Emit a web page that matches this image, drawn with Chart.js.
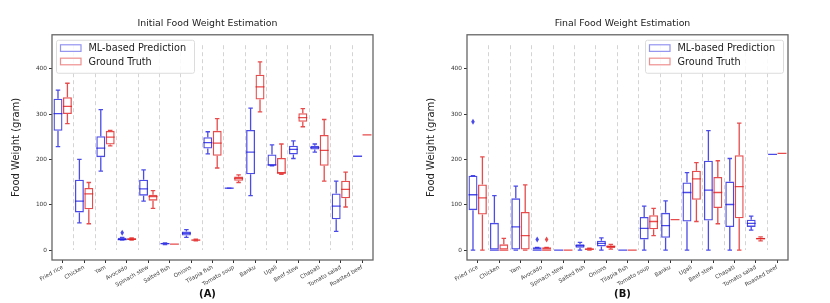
<!DOCTYPE html>
<html>
<head>
<meta charset="utf-8">
<script src="https://cdn.jsdelivr.net/npm/chart.js@4"></script>
<style>
  body { margin: 0; background: #fff; }
  .panel { position: absolute; top: 0; width: 415px; height: 303px; }
</style>
</head>
<body>
<div class="panel" style="left:0"><canvas id="chartA" width="415" height="303"></canvas></div>
<div class="panel" style="left:415px"><canvas id="chartB" width="415" height="303"></canvas></div>
<script>
const categories = ["Fried rice", "Chicken", "Yam", "Avocado", "Spinach stew", "Salted fish", "Onions",
  "Tilapia fish", "Tomato soup", "Banku", "Ugali", "Beef stew", "Chapati", "Tomato salad", "Roasted beef"];

const yTicks = [0, 100, 200, 300, 400];

// each entry: [min, q1, median, q3, max]
const initialPrediction = [
  [228, 263, 301, 334, 353], [60, 83, 108, 155, 200], [174, 205, 225, 251, 310], [22, 22, 23, 27, 28],
  [108, 120, 135, 155, 177], [12, 13, 14, 15, 16], [28, 32, 37, 41, 45], [212, 224, 237, 249, 261],
  [136, 136, 136.5, 137, 137], [120, 167, 216, 265, 313], [186, 186, 188, 211, 232], [202, 211, 222, 230, 241],
  [216, 222, 226, 230, 234], [41, 68, 97, 125, 152], [207, 207, 207, 207, 207]
];
const initialTruth = [
  [279, 300, 317, 337, 368], [58, 90, 124, 137, 149], [230, 233, 249, 263, 264], [22, 22, 24, 26, 27],
  [92, 109, 118, 122, 131], [13, 13, 13, 13, 13], [20, 21, 22, 23, 24], [181, 208, 236, 263, 290],
  [149, 153, 158, 162, 166], [305, 332, 360, 387, 415], [167, 169, 170, 203, 234], [272, 283, 292, 302, 312],
  [152, 186, 220, 254, 288], [95, 114, 134, 153, 172], [254, 254, 254, 254, 254]
];
const finalPrediction = [
  [0, 88, 122, 164, 164], [0, 0, 0, 60, 120], [0, 0, 51, 114, 141], [0, 0, 0, 6, 6],
  [0, 0, 0, 0, 0], [0, 5, 9.5, 13, 17], [0, 8, 14.7, 20.5, 27], [0, 0, 0, 0, 0],
  [0, 23.5, 48, 73, 97], [0, 27, 54, 82, 108.6], [0, 63, 127, 149, 171], [0, 65, 132, 197, 263.5],
  [0, 50.6, 100.5, 151, 202], [44, 51, 59, 67, 75], [211, 211, 211, 211, 211]
];
const finalTruth = [
  [0, 78.5, 115, 144.6, 205.5], [0, 0, 0, 12.5, 25.7], [0, 0, 32, 84, 144], [0, 0, 0, 6, 6],
  [0, 0, 0, 0, 0], [0, 0, 1.5, 3.7, 4], [2, 4.4, 8, 10, 12.5], [0, 0, 0, 0, 0],
  [31.6, 46, 63, 77, 92], [67, 67, 67, 67, 67], [63, 111, 157, 175, 193], [58, 92.5, 127, 161, 197],
  [0, 70, 140, 209, 280], [20, 23, 25, 27, 29], [213.5, 213.5, 213.5, 213.5, 213.5]
];

// outliers: [category index, value]
const initialPredictionOutliers = [[3, 38]];
const initialTruthOutliers = [];
const finalPredictionOutliers = [[0, 283], [3, 23.5]];
const finalTruthOutliers = [[3, 23.5]];

const blue = "rgba(30, 30, 225, 0.8)";
const red = "rgba(225, 30, 30, 0.8)";
const font = "DejaVu Sans";

const boxPlugin = {
  id: "boxes",
  beforeDatasetsDraw(chart) {
    const { ctx, scales: { x, y } } = chart;
    ctx.save();
    ctx.strokeStyle = "#d4d4d4";
    ctx.lineWidth = 1;
    ctx.setLineDash([4, 3]);
    ctx.beginPath();
    for (let i = 0; i < categories.length - 1; i++) {
      const px = Math.round(x.getPixelForValue(i + 0.5)) + 0.5;
      ctx.moveTo(px, y.getPixelForValue(452));
      ctx.lineTo(px, y.getPixelForValue(0));
    }
    ctx.stroke();
    ctx.restore();
  },
  afterDatasetsDraw(chart) {
    const { ctx, chartArea, scales: { y } } = chart;
    const py = v => y.getPixelForValue(v);
    ctx.save();
    chart.data.datasets.forEach((ds, di) => {
      const meta = chart.getDatasetMeta(di);
      ctx.strokeStyle = ds.borderColor;
      ctx.fillStyle = ds.borderColor;
      ctx.lineWidth = 1.3;
      meta.data.forEach((bar, i) => {
        const [lo, q1, med, q3, hi] = ds.stats[i];
        const cx = bar.x, hw = bar.width / 2, cw = bar.width / 4;
        ctx.beginPath();
        ctx.moveTo(cx, py(q3)); ctx.lineTo(cx, py(hi));
        ctx.moveTo(cx, py(q1)); ctx.lineTo(cx, py(lo));
        ctx.moveTo(cx - cw, py(hi)); ctx.lineTo(cx + cw, py(hi));
        ctx.moveTo(cx - cw, py(lo)); ctx.lineTo(cx + cw, py(lo));
        ctx.moveTo(cx - hw, py(med)); ctx.lineTo(cx + hw, py(med));
        ctx.stroke();
      });
      ds.outliers.forEach(([i, v]) => {
        const cx = meta.data[i].x, cy = py(v);
        ctx.beginPath();
        ctx.moveTo(cx, cy - 3); ctx.lineTo(cx + 1.8, cy);
        ctx.lineTo(cx, cy + 3); ctx.lineTo(cx - 1.8, cy);
        ctx.closePath();
        ctx.fill();
      });
    });

    // frame
    ctx.strokeStyle = "#666";
    ctx.lineWidth = 1.3;
    ctx.strokeRect(chartArea.left, chartArea.top, chartArea.right - chartArea.left, chartArea.bottom - chartArea.top);

    // legend inside the plot
    const w = 138, h = 33;
    const bx = chart.options.plugins.boxes.side === "left" ? chartArea.left + 4 : chartArea.right - 5 - w;
    const by = chartArea.top + 5;
    ctx.fillStyle = "rgba(255,255,255,0.85)";
    ctx.strokeStyle = "#dcdcdc";
    ctx.lineWidth = 1;
    ctx.beginPath();
    ctx.roundRect(bx + 0.5, by + 0.5, w, h, 2);
    ctx.fill();
    ctx.stroke();
    ctx.font = "9.7px '" + font + "'";
    ctx.textBaseline = "middle";
    chart.data.datasets.forEach((ds, di) => {
      const ry = by + 8.3 + di * 13.4;
      ctx.strokeStyle = ds.legendColor;
      ctx.lineWidth = 1.2;
      ctx.strokeRect(bx + 4.5, ry - 3.3, 20.5, 6.6);
      ctx.fillStyle = "#222";
      ctx.fillText(ds.label, bx + 32.5, ry + 0.5);
    });
    ctx.restore();
  }
};

function makeChart(id, title, letter, pred, truth, predOut, truthOut, side) {
  return new Chart(document.getElementById(id).getContext("2d"), {
    type: "bar",
    data: {
      labels: categories,
      datasets: [{
        label: "ML-based Prediction",
        data: pred.map(b => [b[1], b[3]]),
        stats: pred,
        outliers: predOut,
        borderColor: blue,
        legendColor: "rgba(60, 60, 230, 0.55)",
        backgroundColor: "transparent",
        borderWidth: 1.3,
        borderSkipped: false
      }, {
        label: "Ground Truth",
        data: truth.map(b => [b[1], b[3]]),
        stats: truth,
        outliers: truthOut,
        borderColor: red,
        legendColor: "rgba(225, 50, 50, 0.55)",
        backgroundColor: "transparent",
        borderWidth: 1.3,
        borderSkipped: false
      }]
    },
    options: {
      responsive: false,
      animation: false,
      devicePixelRatio: 1,
      categoryPercentage: 0.88,
      barPercentage: 0.95,
      layout: { padding: 0 },
      plugins: {
        legend: { display: false },
        tooltip: { enabled: false },
        boxes: { side: side },
        title: {
          display: true,
          text: title,
          color: "#222",
          font: { family: font, size: 9.4, weight: "normal" },
          padding: { top: 17.5, bottom: 6 }
        },
        subtitle: {
          display: true,
          position: "bottom",
          text: letter,
          color: "#111",
          font: { family: font, size: 10, weight: "bold" },
          padding: { top: 0, bottom: 3 }
        }
      },
      scales: {
        x: {
          offset: true,
          border: { display: false },
          grid: { offset: false, drawOnChartArea: false, drawTicks: true, tickLength: 3, tickColor: "#333" },
          ticks: {
            autoSkip: false, minRotation: 30, maxRotation: 30, padding: 1,
            color: "#444", font: { family: font, size: 5.6 }
          },
          afterFit: s => { s.height = 28; }
        },
        y: {
          min: -22,
          max: 475,
          border: { display: false },
          grid: { drawOnChartArea: false, drawTicks: true, tickLength: 3, tickColor: "#333" },
          ticks: { color: "#333", padding: 2, font: { family: font, size: 5.8 } },
          afterBuildTicks: s => { s.ticks = yTicks.map(v => ({ value: v })); },
          title: {
            display: true,
            text: "Food Weight (gram)",
            color: "#222",
            font: { family: font, size: 10 },
            padding: { top: 10, bottom: 0 }
          },
          afterFit: s => { s.width = 52; }
        },
        // empty right-hand axis that only reserves the figure margin
        margin: {
          position: "right",
          min: 0,
          max: 1,
          border: { display: false },
          grid: { display: false },
          ticks: { display: false },
          afterFit: s => { s.width = 42; }
        }
      }
    },
    plugins: [boxPlugin]
  });
}

makeChart("chartA", "Initial Food Weight Estimation", "(A)", initialPrediction, initialTruth,
  initialPredictionOutliers, initialTruthOutliers, "left");
makeChart("chartB", "Final Food Weight Estimation", "(B)", finalPrediction, finalTruth,
  finalPredictionOutliers, finalTruthOutliers, "right");
</script>
</body>
</html>
